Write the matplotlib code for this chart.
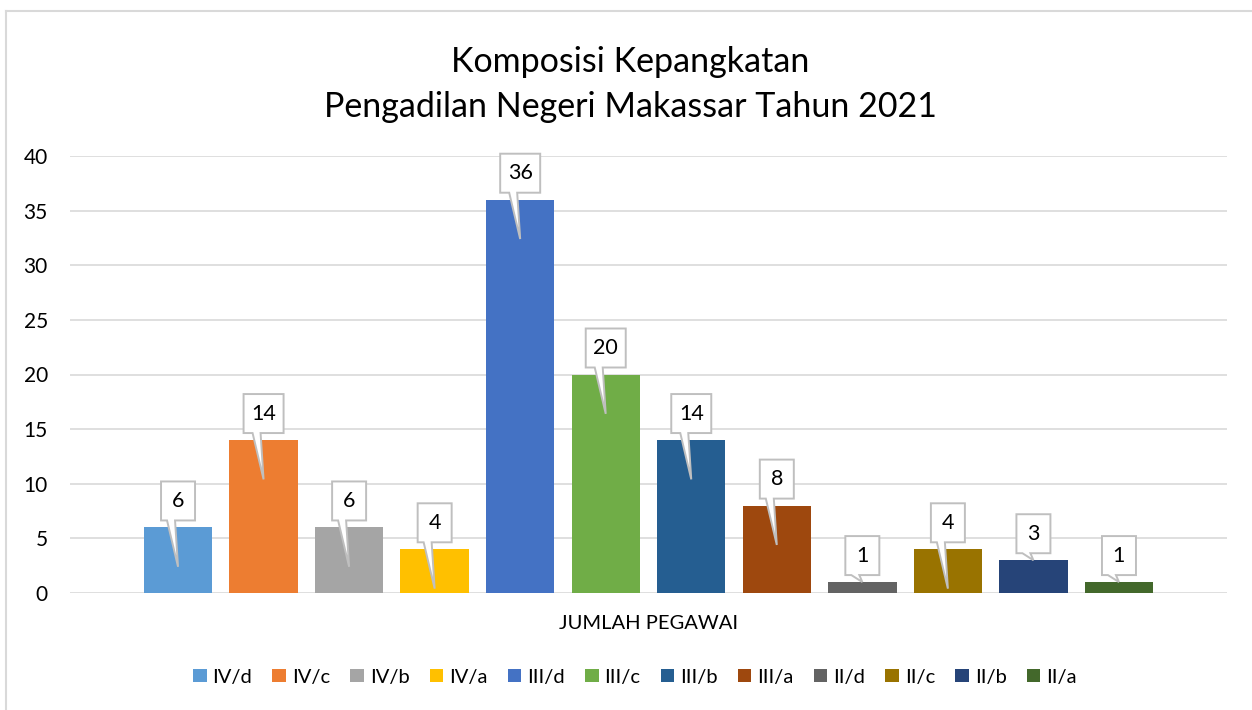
import matplotlib
matplotlib.use("Agg")
import matplotlib.pyplot as plt
from matplotlib.patches import Polygon
from matplotlib.lines import Line2D
from matplotlib.transforms import IdentityTransform

categories = ["IV/d", "IV/c", "IV/b", "IV/a", "III/d", "III/c", "III/b", "III/a",
              "II/d", "II/c", "II/b", "II/a"]
values = [6, 14, 6, 4, 36, 20, 14, 8, 1, 4, 3, 1]
colors = ["#5B9BD5", "#ED7D31", "#A5A5A5", "#FFC000", "#4472C4", "#70AD47",
          "#255E91", "#9E480E", "#636363", "#997300", "#264478", "#43682B"]
yticks = [0, 5, 10, 15, 20, 25, 30, 35, 40]
title = "Komposisi Kepangkatan\nPengadilan Negeri Makassar Tahun 2021"
xlabel = "JUMLAH PEGAWAI"

plt.rcParams['font.family'] = ['Lato', 'DejaVu Sans']

W, H = 1252, 710
fig = plt.figure(figsize=(W / 100, H / 100), dpi=100)
ax = fig.add_axes([70 / W, (H - 593) / H, (1227 - 70) / W, (593 - 156) / H])

n = len(values)
xs = list(range(n))
for x, v, c, lab in zip(xs, values, colors, categories):
    ax.bar(x, v, width=0.8, color=c, label=lab, zorder=2)

ax.set_xlim(-1.263, (n - 1) + 1.263)
ax.set_ylim(0, 40)
ax.set_yticks(yticks)
ax.set_xticks([])
ax.tick_params(axis='y', length=0, pad=16, labelsize=15, labelcolor='#000000')
ax.yaxis.grid(True, color='#D9D9D9', linewidth=1.2, zorder=0)
ax.set_axisbelow(True)
for s in ax.spines.values():
    s.set_visible(False)

ax.set_xlabel(xlabel, fontsize=14.5, color='#000000', labelpad=16)

fig.text(630 / W, 1 - 46 / H, title, ha='center', va='top', fontsize=24.5,
         color='#000000', linespacing=1.5)

# chart border (left and top)
fig.add_artist(Line2D([5.5 / W, 5.5 / W], [0, 1 - 11 / H], transform=fig.transFigure,
                      color='#D9D9D9', linewidth=1.5))
fig.add_artist(Line2D([5.5 / W, 1], [1 - 11 / H, 1 - 11 / H], transform=fig.transFigure,
                      color='#D9D9D9', linewidth=1.5))

# callout data labels
fig.canvas.draw()
for x, v in zip(xs, values):
    cx, top = ax.transData.transform((x, v))
    tipv = v - 3.6 if v - 3.6 > 0 else v
    _, tipy = ax.transData.transform((x, tipv))
    half = 20 if v >= 10 else 17
    B = top + 7
    T = top + 46
    verts = [(cx - half, B), (cx - 11, B), (cx, tipy), (cx - 3, B), (cx + half, B),
             (cx + half, T), (cx - half, T)]
    poly = Polygon(verts, closed=True, facecolor='white', edgecolor='#BFBFBF',
                   linewidth=1.4, transform=IdentityTransform(), zorder=5)
    fig.add_artist(poly)
    fig.text(cx / W, ((B + T) / 2) / H, str(v), ha='center', va='center',
             fontsize=15.5, color='#000000', zorder=6)

leg = fig.legend(loc='center', bbox_to_anchor=(635 / W, 1 - 677 / H), ncol=12,
                 frameon=False, fontsize=14.5, handlelength=0.67, handleheight=0.67,
                 handletextpad=0.3, columnspacing=1.0)

fig.savefig("out.png", dpi=100)
